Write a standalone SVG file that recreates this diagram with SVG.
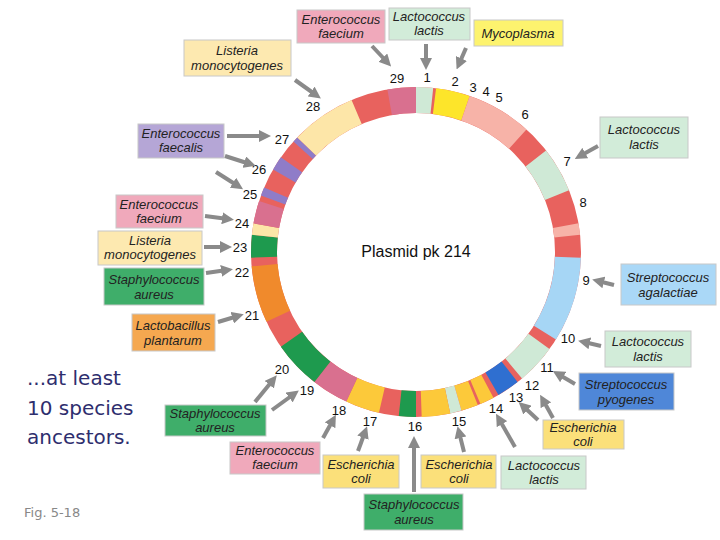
<svg xmlns="http://www.w3.org/2000/svg" width="720" height="540" viewBox="0 0 720 540">
<style>
.b{stroke:#c8c8c8;stroke-width:1}
.pk{fill:#f0a9bb}.lg{fill:#d2ecd9}.ye{fill:#fbe07a}.my{fill:#fdf36e}.py{fill:#fde9b0}.pu{fill:#b5a6d6}.gr{fill:#3fae6a}.or{fill:#f5a850}.lb{fill:#aad8f7}.bl{fill:#4f87d8}
.t{font-family:"Liberation Sans",Arial,sans-serif;font-style:italic;font-size:13px;fill:#222;text-anchor:middle}
.n{font-family:"Liberation Sans",Arial,sans-serif;font-size:13px;fill:#111;text-anchor:middle}
.c line{stroke:#8a8a8a;stroke-width:4;marker-end:url(#a)}
.s circle{fill:none;stroke-width:26}
</style>
<defs><marker id="a" viewBox="0 0 10 10" refX="5" refY="5" markerWidth="3" markerHeight="3" orient="auto"><path d="M0,0L10,5L0,10z" fill="#8a8a8a"/></marker></defs>
<rect width="720" height="540" fill="#fff"/>
<g id="ring" class="s" transform="rotate(-90 416 252)">
<circle cx="416" cy="252" r="152" stroke="#e8625e"/>
<g>
<circle cx="416" cy="252" r="152" pathLength="360" stroke="#cfe9d6" stroke-dasharray="6 354"/>
<circle cx="416" cy="252" r="152" pathLength="360" stroke="#fde52a" stroke-dasharray="12 348" stroke-dashoffset="-7"/>
<circle cx="416" cy="252" r="152" pathLength="360" stroke="#f7b3a8" stroke-dasharray="23 337" stroke-dashoffset="-19"/>
<circle cx="416" cy="252" r="152" pathLength="360" stroke="#cfe9d6" stroke-dasharray="16 344" stroke-dashoffset="-52"/>
<circle cx="416" cy="252" r="152" pathLength="360" stroke="#f7b3a8" stroke-dasharray="4 356" stroke-dashoffset="-80"/>
<circle cx="416" cy="252" r="152" pathLength="360" stroke="#a6d6f5" stroke-dasharray="30 330" stroke-dashoffset="-92"/>
<circle cx="416" cy="252" r="152" pathLength="360" stroke="#cfe9d6" stroke-dasharray="14 346" stroke-dashoffset="-126"/>
<circle cx="416" cy="252" r="152" pathLength="360" stroke="#2f6fd0" stroke-dasharray="8 352" stroke-dashoffset="-142"/>
<circle cx="416" cy="252" r="152" pathLength="360" stroke="#fcc93a" stroke-dasharray="5 355" stroke-dashoffset="-152"/>
<circle cx="416" cy="252" r="152" pathLength="360" stroke="#fcc93a" stroke-dasharray="6 354" stroke-dashoffset="-158"/>
<circle cx="416" cy="252" r="152" pathLength="360" stroke="#cfe9d6" stroke-dasharray="4 356" stroke-dashoffset="-164"/>
<circle cx="416" cy="252" r="152" pathLength="360" stroke="#fcc93a" stroke-dasharray="10 350" stroke-dashoffset="-168"/>
<circle cx="416" cy="252" r="152" pathLength="360" stroke="#1e9a4e" stroke-dasharray="6 354" stroke-dashoffset="-180"/>
<circle cx="416" cy="252" r="152" pathLength="360" stroke="#fcc93a" stroke-dasharray="12 348" stroke-dashoffset="-193"/>
<circle cx="416" cy="252" r="152" pathLength="360" stroke="#d9708f" stroke-dasharray="13 347" stroke-dashoffset="-205"/>
<circle cx="416" cy="252" r="152" pathLength="360" stroke="#1e9a4e" stroke-dasharray="17 343" stroke-dashoffset="-218"/>
<circle cx="416" cy="252" r="152" pathLength="360" stroke="#f08a2c" stroke-dasharray="20 340" stroke-dashoffset="-245"/>
<circle cx="416" cy="252" r="152" pathLength="360" stroke="#1e9a4e" stroke-dasharray="8 352" stroke-dashoffset="-268"/>
<circle cx="416" cy="252" r="152" pathLength="360" stroke="#fde6a8" stroke-dasharray="4 356" stroke-dashoffset="-276"/>
<circle cx="416" cy="252" r="152" pathLength="360" stroke="#d9708f" stroke-dasharray="8 352" stroke-dashoffset="-280"/>
<circle cx="416" cy="252" r="152" pathLength="360" stroke="#8f7cc8" stroke-dasharray="3 357" stroke-dashoffset="-290"/>
<circle cx="416" cy="252" r="152" pathLength="360" stroke="#8f7cc8" stroke-dasharray="5 355" stroke-dashoffset="-300"/>
<circle cx="416" cy="252" r="152" pathLength="360" stroke="#8f7cc8" stroke-dasharray="2 358" stroke-dashoffset="-312"/>
<circle cx="416" cy="252" r="152" pathLength="360" stroke="#fde6a8" stroke-dasharray="23 337" stroke-dashoffset="-314"/>
<circle cx="416" cy="252" r="152" pathLength="360" stroke="#d9708f" stroke-dasharray="10 350" stroke-dashoffset="-350"/>
</g>
</g>
<text class="n" x="416" y="257" style="font-size:16px;font-style:normal">Plasmid pk 214</text>
<g id="numbers" class="n">
<text x="397" y="83">29</text><text x="427" y="82">1</text><text x="455" y="86">2</text><text x="473" y="92">3</text><text x="486" y="96">4</text><text x="499" y="102">5</text><text x="525" y="119">6</text><text x="567" y="166">7</text><text x="583" y="207">8</text><text x="586" y="285">9</text><text x="568" y="343">10</text><text x="547" y="372">11</text><text x="532" y="390">12</text><text x="516" y="402">13</text><text x="496" y="413">14</text><text x="459" y="426">15</text><text x="415" y="431">16</text><text x="370" y="426">17</text><text x="339" y="415">18</text><text x="307" y="395">19</text><text x="282" y="374">20</text><text x="252" y="320">21</text><text x="242" y="277">22</text><text x="240" y="252">23</text><text x="242" y="228">24</text><text x="250" y="199">25</text><text x="259" y="174">26</text><text x="282" y="144">27</text><text x="313" y="111">28</text>
</g>
<g id="n1"><rect class="b pk" x="297" y="10" width="88" height="33"/><text class="t" x="341" y="24">Enterococcus</text><text class="t" x="341" y="38">faecium</text></g>
<g id="n2"><rect class="b lg" x="389" y="8" width="81" height="32"/><text class="t" x="429" y="21">Lactococcus</text><text class="t" x="429" y="35">lactis</text></g>
<g id="n3"><rect class="b my" x="474" y="20" width="89" height="26"/><text class="t" x="518" y="38">Mycoplasma</text></g>
<g id="n4"><rect class="b py" x="184" y="40" width="107" height="36"/><text class="t" x="237" y="55">Listeria</text><text class="t" x="237" y="70">monocytogenes</text></g>
<g id="n5"><rect class="b lg" x="600" y="117" width="88" height="41"/><text class="t" x="644" y="134">Lactococcus</text><text class="t" x="644" y="149">lactis</text></g>
<g id="n6"><rect class="b pu" x="138" y="124" width="86" height="34"/><text class="t" x="181" y="138">Enterococcus</text><text class="t" x="181" y="152">faecalis</text></g>
<g id="n7"><rect class="b pk" x="116" y="195" width="87" height="33"/><text class="t" x="159" y="209">Enterococcus</text><text class="t" x="159" y="223">faecium</text></g>
<g id="n8"><rect class="b py" x="98" y="231" width="104" height="34"/><text class="t" x="150" y="245">Listeria</text><text class="t" x="150" y="259">monocytogenes</text></g>
<g id="n9"><rect class="b gr" x="104" y="268" width="100" height="37"/><text class="t" x="154" y="284">Staphylococcus</text><text class="t" x="154" y="299">aureus</text></g>
<g id="n10"><rect class="b or" x="132" y="314" width="83" height="37"/><text class="t" x="173" y="330">Lactobacillus</text><text class="t" x="173" y="345">plantarum</text></g>
<g id="n11"><rect class="b lb" x="621" y="264" width="95" height="41"/><text class="t" x="668" y="282">Streptococcus</text><text class="t" x="668" y="297">agalactiae</text></g>
<g id="n12"><rect class="b lg" x="605" y="331" width="86" height="36"/><text class="t" x="648" y="346">Lactococcus</text><text class="t" x="648" y="361">lactis</text></g>
<g id="n13"><rect class="b bl" x="579" y="373" width="95" height="37"/><text class="t" x="626" y="389">Streptococcus</text><text class="t" x="626" y="404">pyogenes</text></g>
<g id="n14"><rect class="b ye" x="543" y="420" width="81" height="29"/><text class="t" x="583" y="432">Escherichia</text><text class="t" x="583" y="446">coli</text></g>
<g id="n15"><rect class="b gr" x="165" y="405" width="101" height="31"/><text class="t" x="215" y="418">Staphylococcus</text><text class="t" x="215" y="432">aureus</text></g>
<g id="n16"><rect class="b pk" x="230" y="442" width="90" height="32"/><text class="t" x="275" y="455">Enterococcus</text><text class="t" x="275" y="469">faecium</text></g>
<g id="n17"><rect class="b ye" x="323" y="455" width="76" height="33"/><text class="t" x="361" y="469">Escherichia</text><text class="t" x="361" y="483">coli</text></g>
<g id="n18"><rect class="b ye" x="421" y="455" width="75" height="33"/><text class="t" x="459" y="469">Escherichia</text><text class="t" x="459" y="483">coli</text></g>
<g id="n19"><rect class="b lg" x="501" y="456" width="85" height="33"/><text class="t" x="544" y="470">Lactococcus</text><text class="t" x="544" y="484">lactis</text></g>
<g id="n20"><rect class="b gr" x="364" y="494" width="99" height="36"/><text class="t" x="414" y="509">Staphylococcus</text><text class="t" x="414" y="524">aureus</text></g>
<g id="connectors" class="c">
<line x1="372" y1="46" x2="387" y2="62"/><line x1="426" y1="44" x2="426" y2="64"/><line x1="466" y1="48" x2="459" y2="64"/><line x1="295" y1="80" x2="316" y2="95"/><line x1="598" y1="146" x2="580" y2="156"/><line x1="227" y1="136" x2="265" y2="136"/><line x1="225" y1="156" x2="250" y2="164"/><line x1="216" y1="172" x2="238" y2="186"/><line x1="205" y1="216" x2="228" y2="219"/><line x1="204" y1="247" x2="226" y2="247"/><line x1="206" y1="273" x2="227" y2="270"/><line x1="218" y1="322" x2="238" y2="316"/><line x1="614" y1="285" x2="598" y2="281"/><line x1="601" y1="346" x2="584" y2="342"/><line x1="575" y1="384" x2="558" y2="374"/><line x1="553" y1="418" x2="543" y2="400"/><line x1="538" y1="420" x2="523" y2="406"/><line x1="515" y1="447" x2="499" y2="419"/><line x1="464" y1="452" x2="459" y2="432"/><line x1="414" y1="492" x2="414" y2="442"/><line x1="358" y1="451" x2="365" y2="432"/><line x1="323" y1="438" x2="333" y2="420"/><line x1="272" y1="410" x2="294" y2="394"/><line x1="255" y1="402" x2="273" y2="380"/>
</g>
<g font-family="'DejaVu Sans',sans-serif" font-size="20" fill="#2e2e6e"><text x="27" y="385">...at least</text><text x="27" y="415">10 species</text><text x="27" y="444">ancestors.</text></g>
<text x="24" y="517" font-family="'DejaVu Sans',sans-serif" font-size="13" fill="#888">Fig. 5-18</text>
</svg>
